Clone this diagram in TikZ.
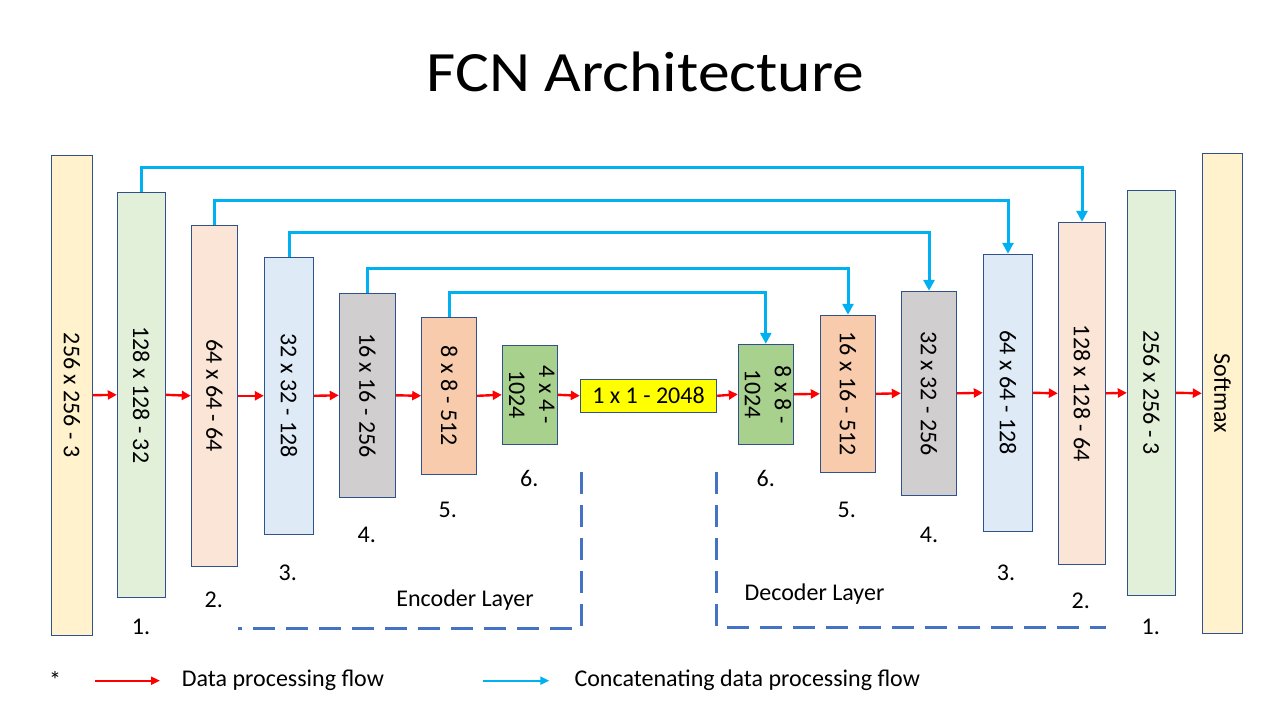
\documentclass[tikz,border=0pt]{standalone}
\usepackage{fontspec}
\setmainfont{Carlito}
\usetikzlibrary{arrows.meta}
\definecolor{boxblue}{HTML}{2F528F}
\definecolor{cYel}{HTML}{FFF2CC}
\definecolor{cGrn}{HTML}{E2F0D9}
\definecolor{cPch}{HTML}{FBE5D6}
\definecolor{cBlu}{HTML}{DEEBF7}
\definecolor{cGry}{HTML}{D0CECE}
\definecolor{cOrg}{HTML}{F8CBAD}
\definecolor{cDGr}{HTML}{A9D18E}
\definecolor{cCen}{HTML}{FFFF00}
\definecolor{flowred}{HTML}{FF0000}
\definecolor{skipblue}{HTML}{00B0F0}
\definecolor{dashblue}{HTML}{4472C4}
\newcommand\lblfont{\fontsize{24}{30}\selectfont}
\newcommand\vlab[1]{\makebox[0pt]{\rotatebox{-90}{#1}}}
\tikzset{
  blk/.style={draw=boxblue, line width=1pt, inner sep=0pt, font=\lblfont},
  flow/.style={draw=flowred, line width=2.4pt, -{Triangle[length=9pt,width=9pt]}},
  skip/.style={draw=skipblue, line width=3pt, -{Triangle[length=11pt,width=11pt]}},
  legred/.style={draw=flowred, line width=2pt, -{Triangle[length=9pt,width=8pt]}},
  legblue/.style={draw=skipblue, line width=2pt, -{Triangle[length=9pt,width=8pt]}},
  layerline/.style={draw=dashblue, line width=3pt, dash pattern=on 22pt off 11pt},
  txt/.style={font=\lblfont, inner sep=0pt},
}
\begin{document}
\begin{tikzpicture}[x=1pt,y=-1pt]
\useasboundingbox (0,0) rectangle (1280,720);
\fill[white] (0,0) rectangle (1280,720);

% title
\node[inner sep=0pt, anchor=base, font=\fontsize{57}{66}\selectfont] (title) at (645.5,91) {\scalebox{1.115}[1]{FCN Architecture}};

% encoder
\node[blk, fill=cYel, minimum width=41.4pt, minimum height=479.7pt] (b0) at (72,395.2) {\vlab{256 x 256 - 3}};
\node[blk, fill=cGrn, minimum width=48pt, minimum height=405pt] (b1) at (141.3,394.8) {\vlab{128 x 128 - 32}};
\node[blk, fill=cPch, minimum width=46.4pt, minimum height=341pt] (b2) at (214.5,395.8) {\vlab{64 x 64 - 64}};
\node[blk, fill=cBlu, minimum width=49.4pt, minimum height=277pt] (b3) at (289,395.8) {\vlab{32 x 32 - 128}};
\node[blk, fill=cGry, minimum width=56.4pt, minimum height=204pt] (b4) at (367.5,395.3) {\vlab{16 x 16 - 256}};
\node[blk, fill=cOrg, minimum width=55pt, minimum height=157pt] (b5) at (449.2,395.8) {\vlab{8 x 8 - 512}};
\node[blk, fill=cDGr, minimum width=55.4pt, minimum height=99pt] (b6) at (530,394.8) {\vlab{\begin{tabular}{@{}c@{}}4 x 4 -\\1024\end{tabular}}};
\node[blk, fill=cCen, minimum width=136.4pt, minimum height=33pt] (c) at (648.5,395.8) {1 x 1 - 2048};

% decoder
\node[blk, fill=cDGr, minimum width=55pt, minimum height=100pt] (d6) at (765.8,394.3) {\vlab{\begin{tabular}{@{}c@{}}8 x 8 -\\1024\end{tabular}}};
\node[blk, fill=cOrg, minimum width=55.4pt, minimum height=157pt] (d5) at (848,393.8) {\vlab{16 x 16 - 512}};
\node[blk, fill=cGry, minimum width=55.4pt, minimum height=204pt] (d4) at (929,393.3) {\vlab{32 x 32 - 256}};
\node[blk, fill=cBlu, minimum width=49.4pt, minimum height=277pt] (d3) at (1008,392.8) {\vlab{64 x 64 - 128}};
\node[blk, fill=cPch, minimum width=47.4pt, minimum height=342pt] (d2) at (1082,393.3) {\vlab{128 x 128 - 64}};
\node[blk, fill=cGrn, minimum width=48.4pt, minimum height=405pt] (d1) at (1151.5,392.8) {\vlab{256 x 256 - 3}};
\node[blk, fill=cYel, minimum width=40.4pt, minimum height=480pt] (sm) at (1222.5,393.3) {\vlab{Softmax}};

% data flow
\draw[flow] (b0.east) -- (b1.west);
\draw[flow] (b1.east) -- (b2.west);
\draw[flow] (b2.east) -- (b3.west);
\draw[flow] (b3.east) -- (b4.west);
\draw[flow] (b4.east) -- (b5.west);
\draw[flow] (b5.east) -- (b6.west);
\draw[flow] (b6.east) -- (c.west);
\draw[flow] (c.east) -- (d6.west);
\draw[flow] (d6.east) -- (d5.west);
\draw[flow] (d5.east) -- (d4.west);
\draw[flow] (d4.east) -- (d3.west);
\draw[flow] (d3.east) -- (d2.west);
\draw[flow] (d2.east) -- (d1.west);
\draw[flow] (d1.east) -- (sm.west);

% skip connections
\draw[skip] (b1.north) -- ++(0,-24) -| (d2.north);
\draw[skip] (b2.north) -- ++(0,-24) -| (d3.north);
\draw[skip] (b3.north) -- ++(0,-24) -| (d4.north);
\draw[skip] (b4.north) -- ++(0,-24) -| (d5.north);
\draw[skip] (b5.north) -- ++(0,-24) -| (d6.north);

% level numbers
\node[txt] (n1) at (141,627) {1.};
\node[txt] (n2) at (213.7,600) {2.};
\node[txt] (n3) at (287.7,573.3) {3.};
\node[txt] (n4) at (366.7,535) {4.};
\node[txt] (n5) at (447.7,510) {5.};
\node[txt] (n6) at (529.3,478.3) {6.};
\node[txt] (m6) at (765.7,478.3) {6.};
\node[txt] (m5) at (846.7,510) {5.};
\node[txt] (m4) at (929,535) {4.};
\node[txt] (m3) at (1006,573.3) {3.};
\node[txt] (m2) at (1080.7,600.7) {2.};
\node[txt] (m1) at (1150.7,627.3) {1.};

% layer outlines
\coordinate (ev1) at (581,472);
\coordinate (ev2) at (581,627);
\coordinate (eh1) at (572,628);
\coordinate (eh2) at (238,628);
\draw[layerline] (ev1) -- (ev2);
\draw[layerline] (eh1) -- (eh2);
\coordinate (dv1) at (716,472);
\coordinate (dv2) at (716,627);
\coordinate (dh1) at (726.5,627);
\coordinate (dh2) at (1106,627);
\draw[layerline] (dv1) -- (dv2);
\draw[layerline] (dh1) -- (dh2);
\node[txt, anchor=base] (enc) at (465,606) {Encoder Layer};
\node[txt, anchor=base] (dec) at (814.5,600.5) {Decoder Layer};

% legend
\node[txt] (star) at (55,680) {*};
\coordinate (lr1) at (95,680.7);
\coordinate (lr2) at (160,680.7);
\draw[legred] (lr1) -- (lr2);
\node[txt, anchor=base west] (ldata) at (181.7,686.7) {Data processing flow};
\coordinate (lb1) at (483.3,680.7);
\coordinate (lb2) at (549.3,680.7);
\draw[legblue] (lb1) -- (lb2);
\node[txt, anchor=base west] (lconc) at (574.3,686.7) {Concatenating data processing flow};
\end{tikzpicture}
\end{document}
